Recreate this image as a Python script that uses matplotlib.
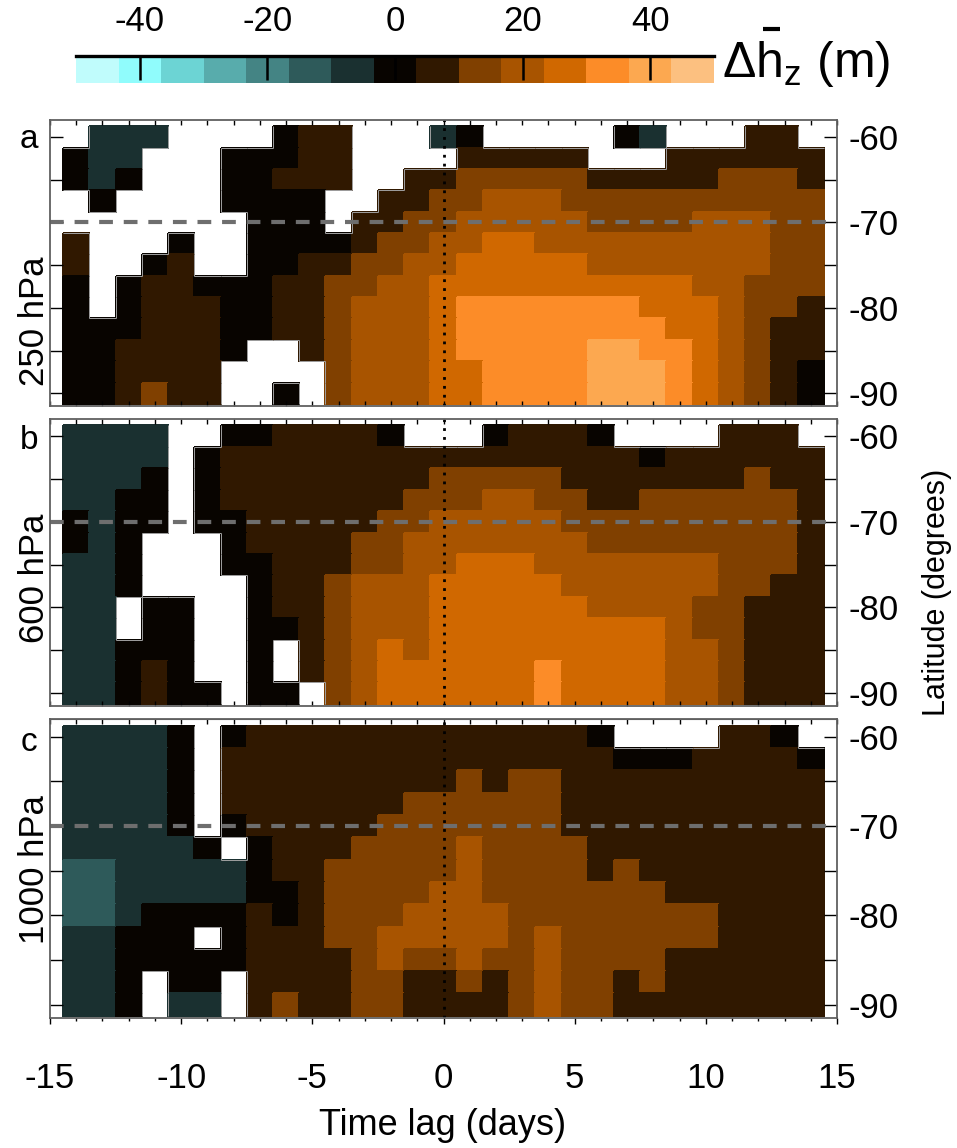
"""Composite of zonal-mean height anomalies vs time lag, three pressure levels"""

import matplotlib.pyplot as plt
import numpy as np
from matplotlib.collections import LineCollection
from matplotlib.colors import BoundaryNorm, ListedColormap
from matplotlib.lines import Line2D
from matplotlib.ticker import MultipleLocator

plt.rcParams['font.family'] = ['Liberation Sans', 'DejaVu Sans']
plt.rcParams['mathtext.fontset'] = 'custom'
plt.rcParams['mathtext.rm'] = 'Liberation Sans'
plt.rcParams['mathtext.it'] = 'Liberation Sans:italic'
plt.rcParams['axes.unicode_minus'] = False

## Grid: time lag (days) and latitude (degrees)
lags = np.arange(-14, 15)
lats = np.linspace(-60, -90, 13)

## Colour levels (m)
level_edges = np.linspace(-50, 50, 16)
level_colors = [
    "#c0fcfc", "#90fcfc", "#6cd4d4", "#58acac", "#448484", "#2e5a5a", "#1a3030",
    "#080400",
    "#301800", "#804000", "#a85400", "#d06800", "#fc8c28", "#fca850", "#fcc080",
]
cbar_ticks = [-40, -20, 0, 20, 40]

## Anomaly, one character per cell (level centre, m)
## '.' = not significant (white)
code_values = {
    "T": -13.3, "t": -6.7, "0": 0.0, "1": 6.7, "2": 13.3,
    "3": 20.0, "4": 26.7, "5": 33.3, "6": 40.0,
}

rows_250 = [
    ".ttt....011...t0.....0t...11.",
    "0tt...00011....11111...111111",
    "0t0...00111..1122222111112221",
    ".0....0000..11223332222222222",
    ".......000.112233333222233322",
    "1...0..0000122334433333333322",
    "1..01..0011223344444333333322",
    "0.011000112233444444444433222",
    "0.011100112333455555554443221",
    "00011100112333455555555443211",
    "0011110..12333455555665543211",
    "001111....2333445555666543210",
    "001211..0.2333445555666543210",
]
rows_600 = [
    "tttt..0011110...01110....111.",
    "tttt.011111111111111110111111",
    "ttt0.011111111222221111111211",
    "tt00.011111112223322112222221",
    "0t00.001111122333332222222221",
    "0t0...01111223333333222222221",
    "tt0...00111223344433333332221",
    "tt0....0112333444443333332211",
    "tt.00..0112333444444333322111",
    "tt.00..0012333444444444322111",
    "tt000..0.12343444444444332111",
    "tt010..0.12344444454444332111",
    "tt0100.00.2344444454444332111",
]
rows_1000 = [
    "tttt0.011111111111110....110.",
    "tttt0.11111111111111100011110",
    "tttt0.11111111121221111111111",
    "tttt0.11111112222221111111111",
    "tttt0.01111122222221111111111",
    "ttttt0.0111222232222111111111",
    "TTttttt0112222232222121111111",
    "TTttttt0012222332222222111111",
    "TTt00001012223333222222221111",
    "tt000.01112233333232222221111",
    "tt000001111232232232222111111",
    "tt0.00.1111221121232212111111",
    "tt0.tt.1211221111232211111111",
]
panel_rows = [rows_250, rows_600, rows_1000]
panel_letters = ["a", "b", "c"]
panel_levels = ["250 hPa", "600 hPa", "1000 hPa"]


def decode(rows):
    """Turn the character rows into an array of anomaly values"""
    return np.array([[code_values.get(ch, np.nan) for ch in row] for row in rows])


def white_outline(values, x_edges, y_edges):
    """Cell sides where a blank cell meets a coloured one"""
    blank = np.isnan(values)
    ny, nx = blank.shape
    segs = []
    for j in range(ny):
        for k in range(nx - 1):
            if blank[j, k] != blank[j, k + 1]:
                x = x_edges[k + 1]
                segs.append([(x, y_edges[j]), (x, y_edges[j + 1])])
    for j in range(ny - 1):
        for k in range(nx):
            if blank[j, k] != blank[j + 1, k]:
                y = y_edges[j + 1]
                segs.append([(x_edges[k], y), (x_edges[k + 1], y)])
    return segs


W, H = 957, 1148


def box(left, top, right, bottom):
    """Pixel box (from top-left) to figure fraction rectangle"""
    return [left / W, 1 - bottom / H, (right - left) / W, (bottom - top) / H]


if __name__ == "__main__":
    cmap = ListedColormap(level_colors)
    norm = BoundaryNorm(level_edges, cmap.N)
    x_edges = np.append(lags - 0.5, lags[-1] + 0.5)
    y_edges = np.append(lats + 1.25, lats[-1] - 1.25)

    fig = plt.figure(figsize=(W / 100, H / 100), dpi=100)
    panel_boxes = [box(50, 120, 837, 406), box(50, 419, 837, 706), box(50, 719, 837, 1018)]
    letter_y = [148, 449, 751]
    level_y = [321, 578, 870]

    for i, rows in enumerate(panel_rows):
        ax = fig.add_axes(panel_boxes[i])
        data = decode(rows)
        ax.pcolormesh(x_edges, y_edges, np.ma.masked_invalid(data), cmap=cmap, norm=norm,
                      edgecolors="face", linewidth=0.3)
        ax.add_collection(LineCollection(white_outline(data, x_edges, y_edges),
                                         colors="#a0a0a0", linewidths=0.7))
        ax.axhline(-70, color="#6e6e6e", lw=3, ls=(0, (3.3, 2.6)))
        ax.axvline(0, color="black", lw=2, ls=(0, (1, 2.2)))
        ax.set_xlim(-15, 15)
        ax.set_ylim(-91.5, -58.0)
        ax.set_xticks(range(-15, 16, 5))
        ax.xaxis.set_minor_locator(MultipleLocator(1))
        ax.set_yticks([-60, -70, -80, -90])
        ax.set_yticks([-65, -75, -85], minor=True)
        ax.yaxis.tick_right()
        ax.tick_params(axis="y", which="both", direction="in", left=True, right=True,
                       length=9.5, width=1, labelsize=25, pad=8,
                       labelleft=False, labelright=True)
        for s in ax.spines.values():
            s.set_color("#606060")
            s.set_linewidth(1.3)
        if i < 2:
            ax.tick_params(axis="x", which="both", direction="in", top=True, bottom=True,
                           length=3.6, width=1, labelbottom=False)
        else:
            ax.tick_params(axis="x", which="major", direction="out", length=4.5, width=1,
                           labelsize=25, pad=27)
            ax.tick_params(axis="x", which="minor", direction="out", length=2.5, width=1)
            top = ax.secondary_xaxis("top")
            top.set_xticks(range(-15, 16, 5))
            top.xaxis.set_minor_locator(MultipleLocator(1))
            top.tick_params(axis="x", which="both", direction="in", length=3.6, width=1,
                            labeltop=False)
            top.spines["top"].set_color("#606060")
        fig.text(29 / W, 1 - letter_y[i] / H, panel_letters[i], fontsize=24,
                 ha="center", va="baseline")
        fig.text(34 / W, 1 - level_y[i] / H, panel_levels[i], fontsize=25,
                 rotation=90, ha="center", va="center")

    fig.text(443 / W, 1 - 1135 / H, "Time lag (days)", fontsize=26,
             ha="center", va="baseline")
    fig.text(937 / W, 1 - 592 / H, "Latitude (degrees)", fontsize=22,
             rotation=90, ha="center", va="center")

    ## Colour bar
    cax = fig.add_axes(box(76, 56, 714, 83))
    centres = (level_edges[:-1] + level_edges[1:]) / 2
    cax.pcolormesh(level_edges, [0, 1], centres[None, :], cmap=cmap, norm=norm)
    cax.set_xlim(-50, 50)
    cax.set_ylim(0, 1.1)
    cax.set_yticks([])
    cax.set_xticks(cbar_ticks)
    cax.xaxis.tick_top()
    cax.tick_params(axis="x", direction="in", length=17.5, width=1.8, color="black",
                    labelsize=25, pad=13)
    for side in ["left", "right", "bottom"]:
        cax.spines[side].set_visible(False)
    cax.spines["top"].set_linewidth(2.4)
    fig.text(722 / W, 1 - 77 / H, r"$\Delta\mathrm{h}_{\mathrm{z}}$ (m)",
             fontsize=36, ha="left", va="baseline")
    # overbar on the h, as in the original label
    fig.add_artist(Line2D([763 / W, 780 / W], [1 - 29 / H, 1 - 29 / H],
                          color="black", lw=3, solid_capstyle="butt"))

    fig.savefig("out.png", dpi=100)
